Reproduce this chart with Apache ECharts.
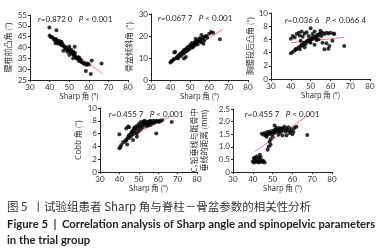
<!DOCTYPE html>
<html>
<head>
<meta charset="utf-8">
<script src="https://cdn.jsdelivr.net/npm/echarts@6/dist/echarts.min.js"></script>
<style>
  html, body { margin: 0; padding: 0; background: #fff; }
  #chart { width: 387px; height: 250px; }
</style>
</head>
<body>
<div id="chart"></div>
<script>
// 腰椎前凸角
const lordosis = [[40,45.5],[40.5,45],[41,44.8],[41.5,44.6],[42,44],[42.5,43.5],[43,43.8],[43.5,42.5],[44,43],[44,41.8],[44.5,42.5],[45,42],[45.5,41.5],[45,43],[46,42.6],[46,41],[46.5,41.8],[47,40.8],[47.5,40.5],[48,39.5],[48,40.2],[48.5,39.8],[49,39],[49,38],[49.5,38.8],[50,38.5],[50,40.5],[50.5,38],[51,37.8],[51,39],[51.5,37.2],[52,36.8],[52,38],[52.5,36.5],[53,36],[53,37.5],[53.5,35.5],[54,35.2],[54,34.8],[54.5,35],[55,34.5],[55,33.8],[55.5,34],[56,33.5],[56.5,33.2],[57,33],[57.5,32.6],[58,32.5],[58.5,32.3],[59,32],[59.5,32.6],[60,32.2],[52,35],[50,36.5],[47,38.5],[43,42],[39.9,49.2],[43.5,48],[58.5,29.2],[61,27.8],[61.5,34],[66.5,32.6],[43.3,43.8],[50,39.6],[52.8,40.4],[51.7,38],[55,35.5],[55.8,34.5]];
const lordosisFit = [[40,45.5],[67,28]];

// 骨盆倾斜角
const pelvicTilt = [[40,8],[40.5,8.5],[41,8.8],[41.5,9.3],[42,9.5],[42,12.5],[42.5,12.8],[43,10],[43.5,10.5],[44,11],[44,9.8],[44.5,11.5],[45,11.8],[45,10.8],[45.5,12],[46,12.5],[46,11.5],[46.5,13],[47,13.5],[47,12.2],[47.5,13.8],[48,14],[48,12.8],[48.5,14.5],[49,15],[49,13.5],[49.5,14.8],[50,15.5],[50,14.2],[50.5,16],[51,15.2],[51,16.8],[51.5,14.8],[52,16.5],[52,15.5],[52.5,17],[53,16],[53,17.5],[53.5,16.5],[54,17.8],[54,16.2],[54.5,18],[55,17.5],[55,19],[55.5,18.5],[56,20.5],[56,17.2],[56.5,18.8],[57,19.5],[57.5,18],[58,19.8],[58.5,20],[59,19.2],[60,21],[61,21.8],[62,21.5],[65.5,18.5],[47,9.8],[48,10.5],[53,18.8],[57,16.5]];
const pelvicTiltFit = [[40,8],[67,23]];

// 胸腰段后凸角
const kyphosis = [[40,3.9],[41,4.1],[42,4.3],[42.5,4.5],[43,4.6],[44,4.8],[44.5,4.5],[45,5],[45.5,5.2],[46,5.1],[46.5,5.4],[47,5.5],[47.5,5.3],[48,5.7],[48.5,5.8],[49,5.9],[49.5,5.6],[50,6],[50.5,6.2],[51,6.1],[51.5,6.3],[52,6.4],[52.5,6.2],[53,6.5],[53.5,6.7],[54,6.6],[54.5,6.8],[55,6.9],[55.5,6.5],[56,7],[57,6.8],[58,7],[59,6.9],[60,7],[61.5,6.9],[40,6.1],[41,6.5],[42,6.3],[43,6.8],[44,7],[44.5,6.6],[45.5,7.2],[46,6.4],[47,6.9],[48,7.1],[49,6.5],[50,7.7],[51,6.8],[52,7.2],[53,5.9],[54,6],[55,7.3],[56,5.5],[57,4.5],[59,4.6],[59.5,5],[62,6.8],[67,5],[61,5.8],[58,5.4],[52,5.2],[50,5.5],[47,4.8],[45,5.8]];
const kyphosisFit = [[40,5.5],[67,6.3]];

// Cobb 角
const cobb = [[40,3.7],[40.5,3.9],[41,4.2],[42,4.6],[43,4.8],[43.5,5],[44,5.2],[44.5,5.5],[45,5.3],[45,5.8],[46,5.6],[46,6.1],[46.5,6.3],[47,5.9],[47,6.5],[47.5,6.8],[48,6.2],[48,7],[48.5,6.6],[49,7.2],[49,6],[49.5,6.9],[50,7.5],[50,6.4],[50.5,7.1],[51,7.8],[51,6.7],[51.5,7.3],[52,7.6],[52,7],[52.5,7.9],[53,7.4],[53,8],[53.5,7.6],[54,7.8],[54,7.2],[54.5,7.5],[55,7.9],[55,7.3],[55.5,7.7],[56,8],[56,7.4],[56.5,7.8],[57,7.6],[57.5,8],[58,7.7],[58.5,7.9],[59,8],[59,6],[60,7.8],[60.5,8],[61,7.9],[62,8.1],[67,7.8],[40,5.9],[43.5,6.8],[44.5,7.1],[45,7],[49,5.5],[47,5],[44,4.3]];
const cobbFit = [[40,4.7],[67,8.8]];

// C7 铅垂线与骶骨中垂线的距离
const sva = [[40,0.42],[40.5,0.38],[41,0.45],[41.5,0.4],[42,0.48],[42.5,0.42],[43,0.38],[43.5,0.5],[44,0.44],[44.5,0.4],[45,0.46],[45.5,0.42],[46,0.38],[41,0.58],[42,0.62],[43.5,0.68],[44,0.6],[40.5,0.55],[43,0.55],[47.5,0.88],[48,1.0],[49,1.08],[48.5,1.2],[49,1.3],[47,1.4],[44.5,1.52],[45.5,1.48],[46,1.55],[46.5,1.45],[47,1.5],[47.5,1.6],[48,1.5],[48.5,1.55],[49,1.62],[49.5,1.5],[50,1.58],[50.5,1.65],[51,1.55],[51.5,1.7],[52,1.6],[52,1.75],[52.5,1.68],[53,1.62],[53.5,1.75],[54,1.7],[54,1.58],[54.5,1.65],[55,1.75],[55.5,1.68],[56,1.8],[56.5,1.6],[57,1.72],[57.5,1.65],[58,1.78],[58.5,1.55],[59,1.62],[59.5,1.7],[60,1.5],[60.5,1.6],[61,1.75],[62,1.8],[55,1.45],[53,1.48],[57,1.45],[67.5,1.47],[51,1.85],[50,1.4]];
const svaFit = [[41,0.82],[68,2.25]];

const yNames = ['腰椎前凸角 (°)', '骨盆倾斜角 (°)', '胸腰段后凸角 (°)', 'Cobb 角 (°)', 'C₇铅垂线与骶骨中\n垂线的距离 (mm)'];
const stats = [['0.872 0', '< 0.001'], ['0.067 7', '< 0.001'], ['0.036 6', '< 0.066 4'], ['0.455 7', '< 0.001'], ['0.455 7', '< 0.001']];
const yRanges = [[25, 55, 5], [0, 30, 10], [0, 10, 2], [0, 10, 2], [0, 2.5, 0.5]];
const xRange = [30, 80, 10];

const grids = [
  { left: 30, top: 15, width: 98, height: 65 },
  { left: 151, top: 14, width: 97, height: 66 },
  { left: 271, top: 13, width: 99, height: 66 },
  { left: 100, top: 108, width: 97, height: 64 },
  { left: 233, top: 109, width: 99, height: 63 }
];
const statPos = [[33, 10], [153, 9], [280, 11], [104, 105], [240, 105]];
const yNameGap = [17, 17, 16, 17, 24];

const latin = 'Lato, "Noto Sans CJK SC", sans-serif';
const cjk = '"Noto Sans CJK SC", Lato, sans-serif';
const axisCommon = {
  axisLine: { lineStyle: { color: '#222', width: 1 } },
  axisTick: { show: true, length: 2, lineStyle: { color: '#222' } },
  splitLine: { show: false },
  axisLabel: { fontSize: 8, color: '#333', fontFamily: latin, margin: 3 }
};

const chart = echarts.init(document.getElementById('chart'));
const allSets = [lordosis, pelvicTilt, kyphosis, cobb, sva];
const allFits = [lordosisFit, pelvicTiltFit, kyphosisFit, cobbFit, svaFit];

const option = {
  animation: false,
  grid: grids,
  xAxis: grids.map((g, i) => Object.assign({}, axisCommon, {
    gridIndex: i, type: 'value', min: xRange[0], max: xRange[1], interval: xRange[2],
    name: 'Sharp 角 (°)', nameLocation: 'middle', nameGap: 12,
    nameTextStyle: { fontSize: 7.5, color: '#333', fontFamily: cjk }
  })),
  yAxis: grids.map((g, i) => Object.assign({}, axisCommon, {
    gridIndex: i, type: 'value', min: yRanges[i][0], max: yRanges[i][1], interval: yRanges[i][2],
    name: yNames[i], nameLocation: 'middle', nameRotate: 90, nameGap: yNameGap[i],
    nameTextStyle: { fontSize: 8, color: '#333', fontFamily: cjk, lineHeight: 10 },
    axisLabel: Object.assign({}, axisCommon.axisLabel, {
      formatter: v => (i === 4 && v !== 0) ? v.toFixed(1) : String(v)
    })
  })),
  title: stats.map((s, i) => ({
    left: statPos[i][0], top: statPos[i][1],
    text: '{i|r}=' + s[0] + '   {i|P} ' + s[1],
    textStyle: {
      fontSize: 8, color: '#222', fontFamily: latin, fontWeight: 'normal',
      rich: { i: { fontStyle: 'italic', fontSize: 8, fontFamily: latin, color: '#222' } }
    }
  })).concat([
    { left: 2, top: 196, text: '图 5  丨试验组患者 Sharp 角与脊柱－骨盆参数的相关性分析',
      textStyle: { fontSize: 11.5, color: '#333', fontFamily: cjk, fontWeight: 'normal' } },
    { left: 2, top: 214, text: 'Figure 5  |  Correlation analysis of Sharp angle and spinopelvic parameters',
      textStyle: { fontSize: 11.3, color: '#222', fontFamily: latin, fontWeight: 'bold' } },
    { left: 2, top: 230, text: 'in the trial group',
      textStyle: { fontSize: 11.3, color: '#222', fontFamily: latin, fontWeight: 'bold' } }
  ]),
  series: []
};

allSets.forEach((d, i) => {
  option.series.push({
    type: 'line', xAxisIndex: i, yAxisIndex: i, data: allFits[i],
    symbol: 'none', lineStyle: { color: '#ee7b80', width: 1 }, z: 1
  });
  option.series.push({
    type: 'scatter', xAxisIndex: i, yAxisIndex: i, data: d,
    symbolSize: 4, itemStyle: { color: '#000' }, z: 2
  });
});

chart.setOption(option);
</script>
</body>
</html>
